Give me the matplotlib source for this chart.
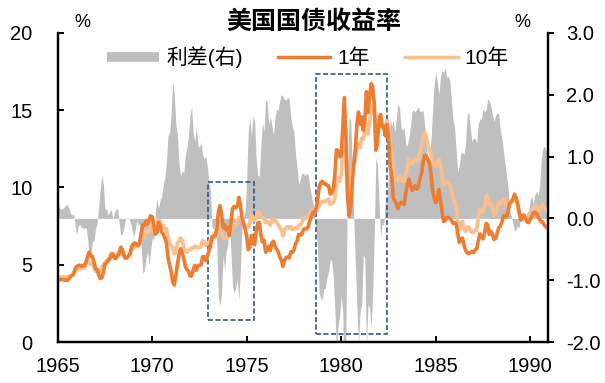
import numpy as np
import matplotlib
matplotlib.use("Agg")
import matplotlib.pyplot as plt
from matplotlib.lines import Line2D
from matplotlib.patches import Rectangle

plt.rcParams['font.family'] = ['Liberation Sans', 'Noto Sans CJK SC', 'DejaVu Sans']
plt.rcParams['axes.unicode_minus'] = False

# Rendements mensuels, janv. 1965 -> déc. 1990 (%)
start_year = 1965
yield_1y = [
    3.94, 4.03, 4.06, 4.04, 4.03, 3.99, 3.98, 4.07, 4.20, 4.30, 4.37, 4.72,   # 1965
    4.88, 4.94, 4.97, 4.90, 4.93, 4.97, 5.17, 5.54, 5.82, 5.58, 5.54, 5.20,   # 1966
    4.75, 4.71, 4.35, 4.11, 4.15, 4.48, 5.01, 5.13, 5.24, 5.37, 5.61, 5.71,   # 1967
    5.43, 5.41, 5.58, 5.71, 6.14, 5.98, 5.65, 5.43, 5.45, 5.57, 5.75, 6.19,   # 1968
    6.34, 6.41, 6.34, 6.26, 6.42, 7.04, 7.60, 7.54, 7.82, 7.64, 7.89, 8.17,   # 1969
    8.10, 7.59, 6.97, 7.06, 7.75, 7.55, 7.10, 6.98, 6.73, 6.43, 5.51, 5.00,   # 1970
    4.57, 3.89, 3.69, 4.30, 5.04, 5.64, 6.04, 5.80, 5.41, 4.91, 4.67, 4.60,   # 1971
    4.28, 4.27, 4.67, 4.96, 4.64, 4.93, 4.96, 4.98, 5.52, 5.52, 5.27, 5.52,   # 1972
    5.89, 6.19, 6.85, 6.85, 6.89, 7.31, 8.39, 8.82, 8.31, 7.40, 7.57, 7.27,   # 1973
    7.42, 6.88, 7.76, 8.62, 8.78, 8.67, 8.80, 9.36, 8.87, 8.05, 7.66, 7.31,   # 1974
    6.83, 5.98, 6.11, 6.90, 6.39, 6.29, 7.11, 7.70, 7.75, 6.95, 6.49, 6.60,   # 1975
    5.81, 5.91, 6.21, 5.92, 6.40, 6.52, 6.20, 6.00, 5.84, 5.50, 5.29, 4.89,   # 1976
    5.29, 5.47, 5.50, 5.44, 5.84, 5.80, 5.94, 6.37, 6.53, 6.97, 6.95, 6.96,   # 1977
    7.28, 7.34, 7.31, 7.45, 7.82, 8.09, 8.39, 8.31, 8.64, 9.14, 10.01, 10.30, # 1978
    10.41, 10.24, 10.25, 10.12, 10.12, 9.57, 9.64, 9.98, 10.84, 12.44, 12.39, 11.98,  # 1979
    12.06, 13.92, 15.82, 13.30, 9.39, 8.16, 8.65, 10.24, 11.52, 12.49, 14.15, 14.88,  # 1980
    14.08, 14.57, 13.71, 14.32, 16.20, 14.86, 15.72, 16.72, 16.52, 15.38, 12.41, 12.85,  # 1981
    14.32, 14.73, 13.95, 13.98, 13.34, 14.07, 13.24, 11.43, 10.85, 9.32, 9.16, 8.91,  # 1982
    8.62, 8.92, 9.04, 8.98, 8.90, 9.66, 10.20, 10.53, 10.16, 9.81, 9.94, 10.11,   # 1983
    9.90, 10.04, 10.59, 10.90, 11.66, 12.08, 12.03, 11.82, 11.58, 10.90, 9.82, 9.33,  # 1984
    9.02, 9.29, 9.86, 9.14, 8.46, 7.80, 7.86, 8.05, 8.07, 8.01, 7.88, 7.67,   # 1985
    7.73, 7.61, 7.03, 6.44, 6.65, 6.73, 6.27, 5.93, 5.77, 5.72, 5.80, 5.87,   # 1986
    5.78, 5.96, 6.03, 6.50, 7.00, 6.80, 6.68, 7.03, 7.67, 7.59, 6.96, 7.17,   # 1987
    6.99, 6.64, 6.71, 7.01, 7.40, 7.49, 7.75, 8.17, 8.09, 8.11, 8.48, 8.99,   # 1988
    9.05, 9.25, 9.57, 9.36, 8.98, 8.44, 7.89, 8.18, 8.22, 7.99, 7.77, 7.72,   # 1989
    7.92, 8.11, 8.35, 8.40, 8.32, 8.10, 7.94, 7.78, 7.76, 7.55, 7.45, 7.40,   # 1990
]
yield_10y = [
    4.19, 4.21, 4.21, 4.20, 4.21, 4.21, 4.20, 4.25, 4.29, 4.35, 4.45, 4.62,   # 1965
    4.61, 4.83, 4.87, 4.75, 4.78, 4.81, 5.02, 5.22, 5.18, 5.01, 5.16, 4.84,   # 1966
    4.58, 4.63, 4.54, 4.59, 4.85, 5.02, 5.16, 5.28, 5.30, 5.48, 5.75, 5.70,   # 1967
    5.53, 5.56, 5.74, 5.64, 5.87, 5.72, 5.50, 5.42, 5.46, 5.58, 5.70, 6.03,   # 1968
    6.04, 6.19, 6.30, 6.17, 6.32, 6.57, 6.72, 6.69, 7.16, 7.10, 7.14, 7.65,   # 1969
    7.79, 7.24, 7.07, 7.39, 7.91, 7.84, 7.46, 7.53, 7.39, 7.33, 6.84, 6.39,   # 1970
    6.24, 6.11, 5.70, 5.83, 6.39, 6.52, 6.73, 6.58, 6.14, 5.93, 5.81, 5.93,   # 1971
    5.95, 6.08, 6.07, 6.19, 6.13, 6.11, 6.11, 6.21, 6.55, 6.48, 6.28, 6.36,   # 1972
    6.46, 6.64, 6.71, 6.67, 6.85, 6.90, 7.13, 7.40, 7.09, 6.79, 6.73, 6.74,   # 1973
    6.99, 6.96, 7.21, 7.51, 7.58, 7.54, 7.81, 8.04, 8.04, 7.90, 7.68, 7.43,   # 1974
    7.50, 7.39, 7.73, 8.23, 8.06, 7.86, 8.06, 8.40, 8.43, 8.14, 8.05, 8.00,   # 1975
    7.74, 7.79, 7.73, 7.56, 7.90, 7.86, 7.83, 7.77, 7.59, 7.41, 7.29, 6.87,   # 1976
    7.21, 7.39, 7.46, 7.37, 7.46, 7.28, 7.33, 7.40, 7.34, 7.52, 7.58, 7.69,   # 1977
    8.01, 8.03, 8.04, 8.15, 8.35, 8.46, 8.64, 8.41, 8.42, 8.64, 8.81, 9.01,   # 1978
    9.10, 9.10, 9.12, 9.18, 9.25, 8.91, 8.95, 9.03, 9.33, 10.30, 10.65, 10.39,    # 1979
    10.80, 12.41, 12.75, 11.47, 10.18, 9.78, 10.25, 11.10, 11.51, 11.75, 12.68, 12.84,  # 1980
    12.57, 13.19, 13.12, 13.68, 14.10, 13.47, 14.28, 14.94, 15.32, 15.15, 13.39, 13.72,  # 1981
    14.59, 14.43, 13.86, 13.87, 13.62, 14.30, 13.95, 13.06, 12.34, 10.91, 10.55, 10.54,  # 1982
    10.46, 10.72, 10.51, 10.40, 10.38, 10.85, 11.38, 11.85, 11.65, 11.54, 11.69, 11.83,  # 1983
    11.67, 11.84, 12.32, 12.63, 13.41, 13.56, 13.36, 12.72, 12.52, 12.16, 11.57, 11.50,  # 1984
    11.38, 11.51, 11.86, 11.43, 10.85, 10.16, 10.31, 10.33, 10.37, 10.24, 9.78, 9.26,  # 1985
    9.19, 8.70, 7.78, 7.30, 7.71, 7.80, 7.30, 7.17, 7.45, 7.43, 7.25, 7.11,   # 1986
    7.08, 7.25, 7.25, 8.02, 8.61, 8.40, 8.45, 8.76, 9.42, 9.52, 8.86, 8.99,   # 1987
    8.67, 8.21, 8.37, 8.72, 9.09, 8.92, 9.06, 9.26, 8.98, 8.80, 8.96, 9.11,   # 1988
    9.09, 9.17, 9.36, 9.18, 8.86, 8.28, 8.02, 8.11, 8.19, 8.01, 7.87, 7.84,   # 1989
    8.21, 8.47, 8.59, 8.79, 8.76, 8.48, 8.47, 8.75, 8.89, 8.72, 8.55, 8.45,   # 1990
]
x_ticks = [1965, 1970, 1975, 1980, 1985, 1990]

# Cadres en pointillés (années, % axe gauche)
boxes = [(1972.94, 1975.39, 1.44, 10.37), (1978.66, 1982.40, 0.52, 17.35)]

y1 = np.array(yield_1y)
y10 = np.array(yield_10y)
spread = y10 - y1
t = start_year + np.arange(len(y1)) / 12.0

c_1y = '#ED7D31'
c_10y = '#F9BF8F'
c_gray = '#BFBFBF'
c_box = '#34578A'

fig = plt.figure(figsize=(6.05, 3.83), dpi=100)
ax = fig.add_axes([0.0954, 0.107, 0.8096, 0.807])
ax2 = ax.twinx()

# Écart de taux (axe droit)
ax2.fill_between(t, 0, spread, color=c_gray, linewidth=0)
ax2.set_ylim(-2, 3)
ax2.set_yticks(np.arange(-2, 3.01, 1.0))
ax2.set_yticklabels([f"{v:.1f}" for v in np.arange(-2, 3.01, 1.0)])

# Rendements (axe gauche)
ax.set_zorder(ax2.get_zorder() + 1)
ax.patch.set_visible(False)
ax.plot(t, y10, color=c_10y, lw=2.7, solid_joinstyle='round')
ax.plot(t, y1, color=c_1y, lw=2.6, solid_joinstyle='round')

for x0, x1_, b, h in boxes:
    ax.add_patch(Rectangle((x0, b), x1_ - x0, h - b, fill=False, edgecolor=c_box,
                           lw=1.2, linestyle=(0, (3, 1.5))))

ax.set_xlim(start_year, t[-1])
ax.set_ylim(0, 20)
ax.set_yticks([0, 5, 10, 15, 20])
ax.set_xticks(x_ticks)

for a in (ax, ax2):
    a.spines['top'].set_visible(False)
    for s in a.spines.values():
        s.set_linewidth(1.6)
        s.set_color('black')
ax.tick_params(axis='y', direction='in', length=4.5, width=1.4, pad=18, labelsize=14.5)
ax.tick_params(axis='x', direction='in', length=4.5, width=1.4, pad=11, labelsize=14.5)
ax2.tick_params(axis='y', direction='out', length=4.5, width=1.4, pad=9, labelsize=14.5)

fig.text(0.518, 0.944, "美国国债收益率", ha='center', va='center', fontsize=18, fontweight='bold')
fig.text(0.136, 0.94, "%", ha='center', va='center', fontsize=13)
fig.text(0.864, 0.94, "%", ha='center', va='center', fontsize=13)

handles = [Line2D([], [], color=c_gray, lw=7, solid_capstyle='butt'),
           Line2D([], [], color=c_1y, lw=2.5),
           Line2D([], [], color=c_10y, lw=2.5)]
fig.legend(handles, ["利差(右)", "1年", "10年"], loc='center', bbox_to_anchor=(0.509, 0.851),
           ncol=3, frameon=False, fontsize=15, handlelength=2.5, handletextpad=0.35,
           columnspacing=1.7, borderpad=0)

fig.savefig("out.png", dpi=100)
